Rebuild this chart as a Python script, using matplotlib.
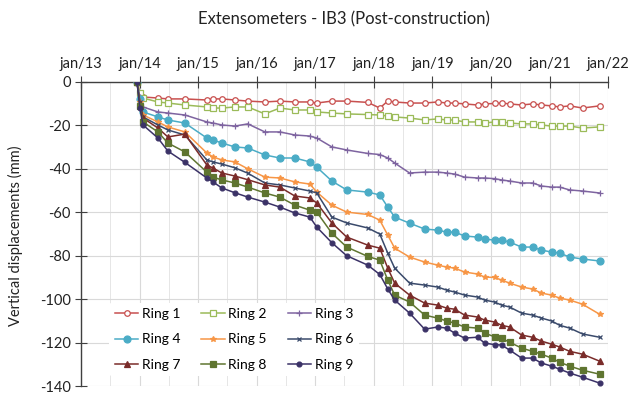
import numpy as np
import pandas as pd
import matplotlib
matplotlib.use("Agg")
import matplotlib.pyplot as plt
import matplotlib.dates as mdates

plt.rcParams['font.family'] = ['Lato', 'DejaVu Sans']
plt.rcParams['axes.unicode_minus'] = False

# measurement dates (shared by all rings)
dates = ['2013-12-15', '2014-01-03', '2014-01-22', '2014-04-25', '2014-06-26',
         '2014-10-10', '2015-02-24', '2015-04-03', '2015-05-29', '2015-08-18',
         '2015-11-07', '2016-02-21', '2016-05-25', '2016-08-26', '2016-11-28',
         '2017-01-10', '2017-04-14', '2017-07-16', '2017-11-24', '2018-02-07',
         '2018-03-29', '2018-05-11', '2018-08-12', '2018-11-14', '2019-02-03',
         '2019-03-31', '2019-05-20', '2019-07-21', '2019-10-10', '2019-11-23',
         '2020-01-24', '2020-03-08', '2020-04-27', '2020-07-11', '2020-09-17',
         '2020-11-12', '2021-01-14', '2021-03-05', '2021-05-07', '2021-07-26',
         '2021-11-09']

ring1 = [0, -5, -6.9, -7.4, -7.8, -7.8, -8.3, -7.8, -7.8, -8.3, -8.8, -9.2, -8.8, -9.2,
         -9.2, -9.7, -8.8, -8.8, -9.4, -12, -8.8, -9.2, -9.7, -9.7, -9.2, -9.7, -9.7,
         -10.1, -10.6, -10.1, -9.9, -9.7, -10.1, -10.6, -10.1, -10.6, -11, -11.5, -11,
         -12, -11]
ring2 = [0, -5, -7.4, -9.2, -9.7, -10.6, -11.5, -12, -12, -11.5, -11.5, -14.7, -12,
         -12.9, -12.9, -13.8, -14.3, -14.7, -15, -15.2, -15.7, -16.1, -16.6, -17.5, -17,
         -17.5, -17.5, -18.4, -18.4, -18.9, -18.4, -18.4, -18.9, -19.3, -19.3, -19.8,
         -20.3, -20.3, -20.3, -21.2, -20.7]
ring3 = [0, -7, -11.5, -13.8, -14.3, -15.2, -18.4, -18.9, -19.8, -20.3, -19.3, -23, -23,
         -24.4, -24.9, -25.8, -29.9, -31.3, -32.9, -33.4, -35, -37.3, -41.9, -41.5,
         -41.5, -41.9, -42.4, -43.8, -44.2, -44.2, -44.5, -45.1, -45.6, -46.5, -46.5,
         -47.9, -48.4, -48.4, -49.7, -50.2, -51.1]
ring4 = [0, -8, -13.8, -16.1, -17.5, -18.9, -25.8, -26.7, -28.1, -29.9, -30.4, -33.6,
         -35, -35, -36.8, -39.2, -45.6, -49.7, -50.7, -52, -57.6, -62.2, -65, -67.7,
         -68.2, -69.1, -69.1, -70.9, -71.4, -72.3, -72.8, -72.8, -73.7, -76, -76, -77.4,
         -78.3, -78.8, -80.6, -81.5, -82.4]
ring5 = [0, -9, -15.2, -18.4, -20.7, -23, -32.7, -34.5, -35.9, -36.8, -40, -43.8, -44.2,
         -46, -47, -50.7, -56.7, -59.9, -61, -63.6, -70.5, -76.5, -80.6, -82.9, -84.3,
         -85.2, -85.7, -87.5, -88.4, -89.8, -90, -91.2, -92.6, -94.4, -95.3, -97.2,
         -98.1, -99.5, -100.4, -102.3, -106.9]
ring6 = [0, -9, -16.1, -19.8, -22.1, -24.4, -35.9, -36.8, -37.8, -39.5, -42, -46.5,
         -47.4, -48.8, -50.2, -51.1, -62.2, -64.9, -67.2, -70, -78.8, -85.7, -92.6,
         -93.5, -94.4, -95.8, -96.7, -98.1, -99, -100.4, -101.3, -102.7, -103.6, -106.4,
         -107.3, -108.7, -110, -112, -113.3, -116, -117.5]
ring7 = [0, -10, -16.6, -21.2, -25.3, -24, -38.2, -39.6, -41.9, -43.3, -45, -47.4,
         -48.4, -52.5, -53.4, -55.7, -64.9, -71.4, -75.1, -76.5, -85.7, -92.6, -98.1,
         -101.8, -102.7, -104.1, -104.6, -107.3, -108.2, -109.6, -110.5, -112, -112.8,
         -116.5, -117.5, -119.3, -120.7, -122, -124, -125.3, -128.5]
ring8 = [0, -11, -18.4, -23, -28.1, -32.2, -41.5, -43.8, -45.1, -46.5, -48.4, -51.1,
         -53, -56.7, -59, -59.9, -69.6, -76, -80.3, -82, -91.2, -98.1, -101.3, -107.3,
         -108.7, -110, -111, -112.8, -113.3, -115.6, -117.3, -118, -119.8, -122.5, -124,
         -125.3, -127.1, -129, -130.8, -132.7, -134.5]
ring9 = [0, -12, -19.8, -25.8, -31.8, -37, -44.2, -46, -48.8, -51, -53, -55.3, -57.6,
         -60.3, -62.2, -66.8, -74, -80, -84.3, -88.6, -95.3, -100.4, -106.4, -113.8,
         -112.8, -113.3, -115.6, -117.9, -117.5, -120.2, -120.9, -121.1, -123.4, -127.1,
         -127.1, -129.4, -130.8, -132.2, -134, -135.9, -138.6]

labels = ['Ring 1', 'Ring 2', 'Ring 3', 'Ring 4', 'Ring 5', 'Ring 6', 'Ring 7', 'Ring 8', 'Ring 9']
series = [ring1, ring2, ring3, ring4, ring5, ring6, ring7, ring8, ring9]
colors = ['#C8504F', '#9BBB59', '#7E64A0', '#4BACC6', '#F79646', '#3A4A6B',
          '#7A2C2A', '#5F7530', '#3B3267']
markers = ['o', 's', '+', 'o', '*', 'x', '^', 's', 'o']
msizes = [4, 4, 4, 5, 4, 3.5, 4, 4, 3.5]
open_mk = [True, True, False, False, False, False, False, False, False]

t = pd.to_datetime(dates)

fig = plt.figure(figsize=(6.34, 3.96), dpi=100)
ax = fig.add_axes([0.128, 0.025, 0.831, 0.768])

handles = []
for y, lab, c, m, ms, op in zip(series, labels, colors, markers, msizes, open_mk):
    h, = ax.plot(t, y, color=c, lw=1.1, marker=m, markersize=ms,
                 markerfacecolor='white' if op else c, markeredgecolor=c,
                 markeredgewidth=0.9, label=lab, zorder=3)
    handles.append(h)

ax.set_xlim(pd.Timestamp('2013-01-01'), pd.Timestamp('2022-01-01'))
ax.set_ylim(-140, 0)
ax.set_yticks(np.arange(-140, 1, 20))

ax.xaxis.set_major_locator(mdates.YearLocator())
ax.xaxis.set_major_formatter(mdates.DateFormatter('jan/%y'))
ax.xaxis.set_minor_locator(mdates.MonthLocator(bymonth=7))
ax.xaxis.tick_top()

ax.grid(True, which='major', color='#D9D9D9', lw=0.8, zorder=0)
ax.grid(True, which='minor', axis='x', color='#E6E6E6', lw=0.7, zorder=0)
ax.set_axisbelow(True)

for s in ['bottom', 'right']:
    ax.spines[s].set_visible(False)
for s in ['top', 'left']:
    ax.spines[s].set_color('#404040')
    ax.spines[s].set_linewidth(1.0)

ax.tick_params(axis='both', which='major', direction='inout', length=8,
               color='#404040', labelsize=10.5, labelcolor='#222222')
ax.tick_params(axis='x', which='minor', length=0)
ax.tick_params(axis='x', pad=4)

fig.text(0.543, 0.95, 'Extensometers - IB3 (Post-construction)', ha='center',
         va='center', fontsize=12, color='#222222')
fig.text(0.024, 0.405, 'Vertical displacements (mm)', rotation=90, ha='center',
         va='center', fontsize=10.5, color='#222222')

# legend rows read Ring 1-3, 4-6, 7-9 (matplotlib fills columns first)
order = [0, 3, 6, 1, 4, 7, 2, 5, 8]
leg = ax.legend([handles[i] for i in order], [labels[i] for i in order],
                loc='lower left', bbox_to_anchor=(0.04, 0.01), ncol=3, fontsize=10,
                frameon=True, framealpha=1, edgecolor='white', handlelength=1.7,
                handletextpad=0.25, columnspacing=1.5, labelspacing=0.95,
                borderpad=0.4)
leg.get_frame().set_linewidth(0)

fig.savefig('out.png', dpi=100)
